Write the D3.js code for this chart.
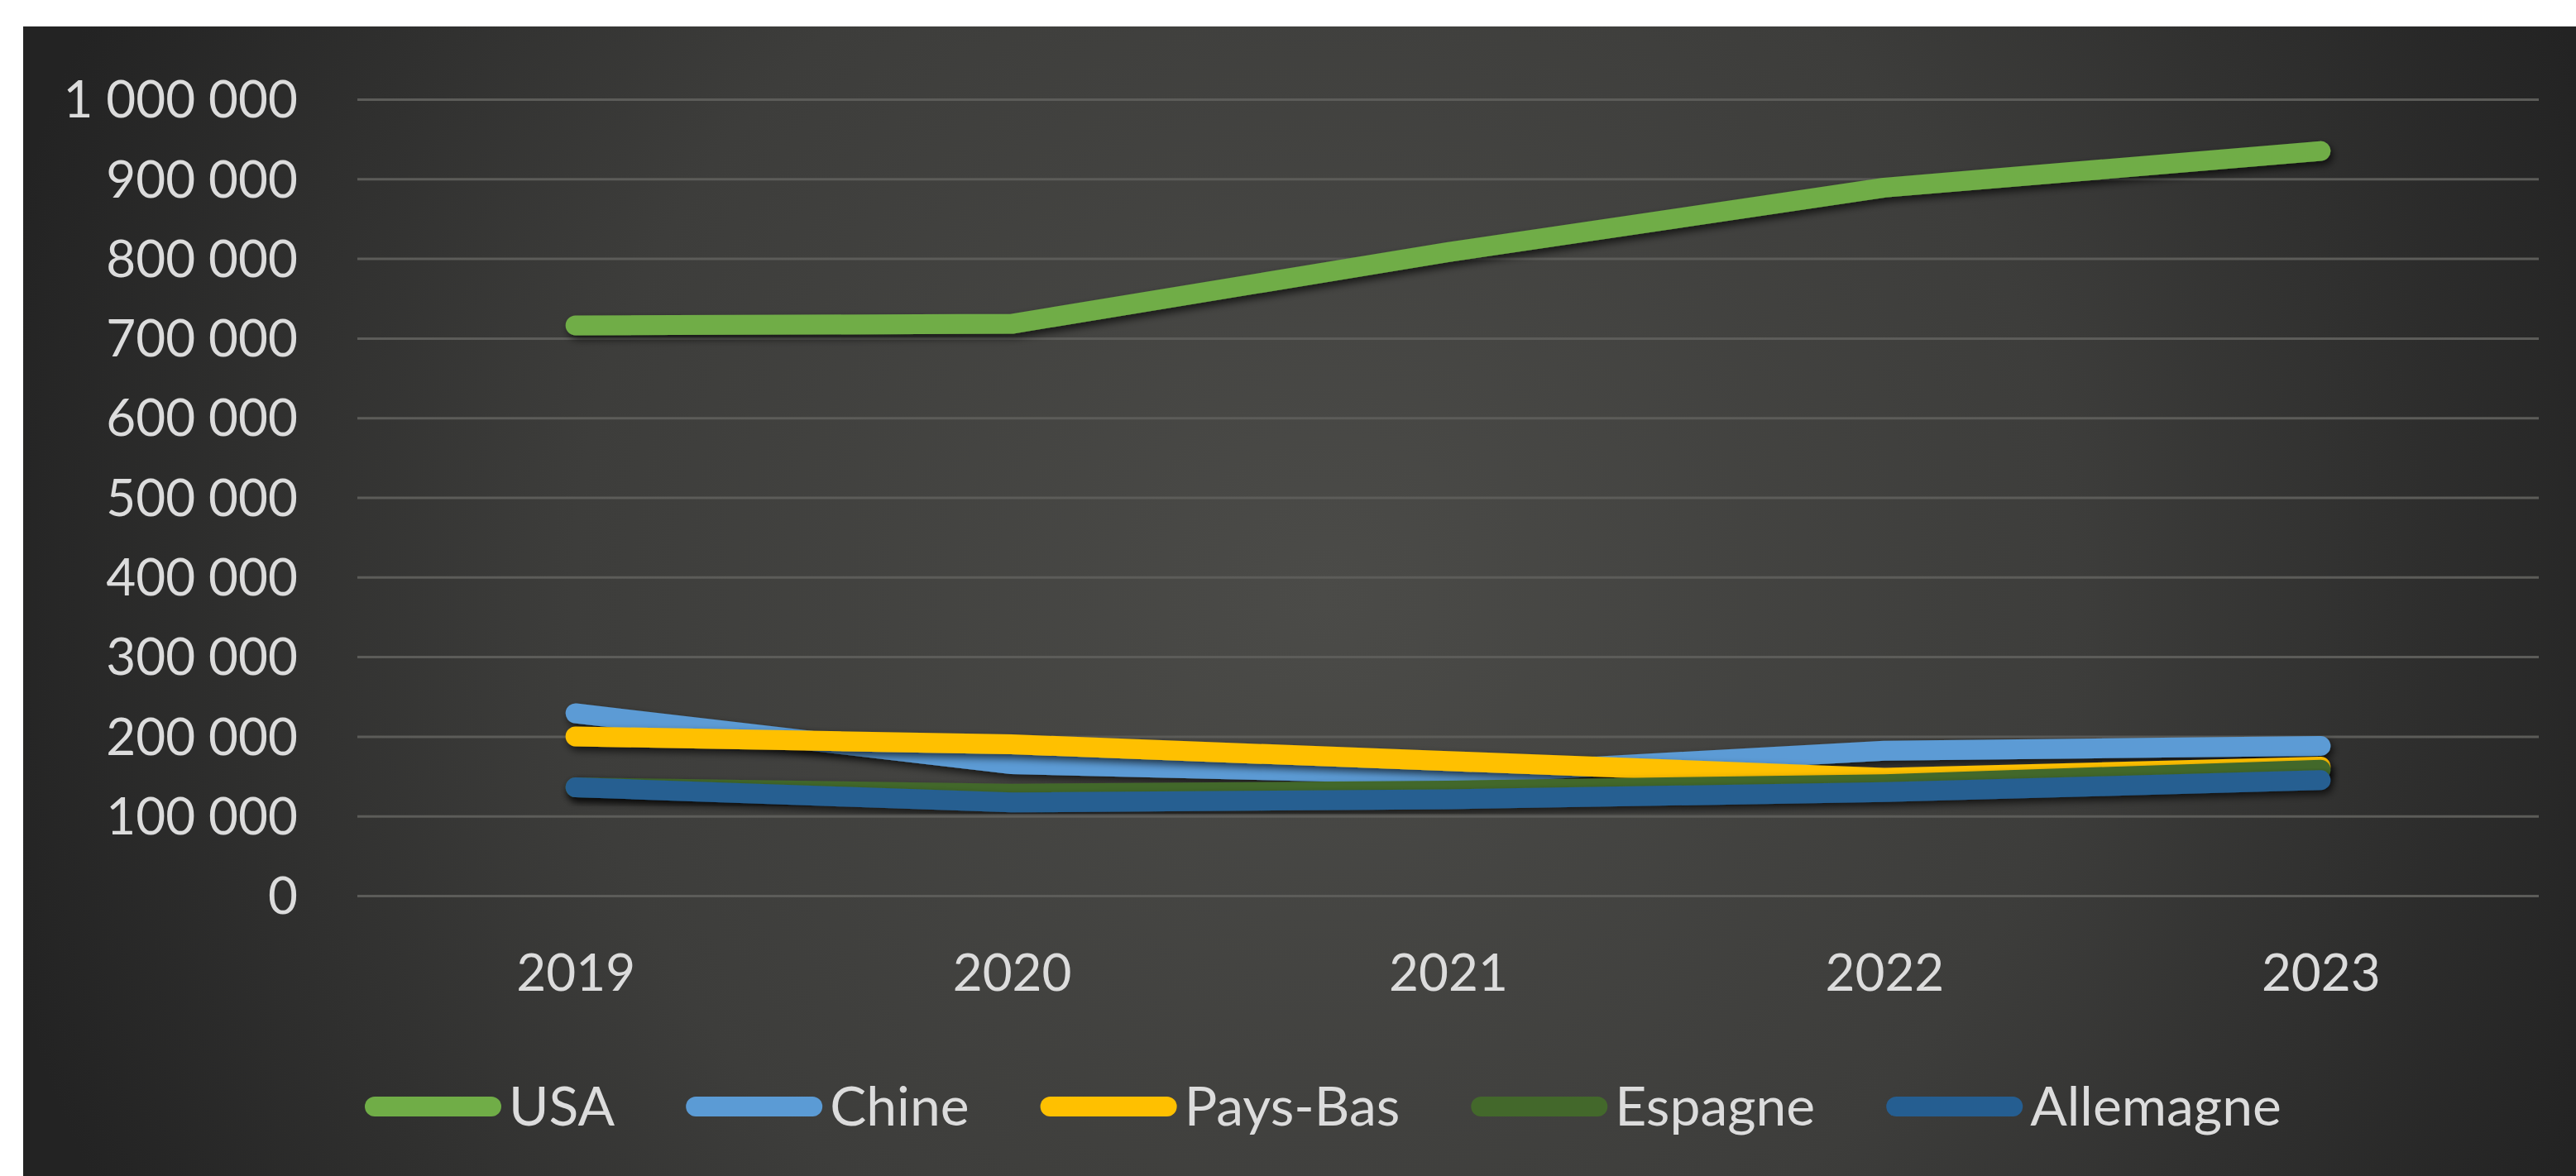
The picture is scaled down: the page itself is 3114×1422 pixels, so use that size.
<!DOCTYPE html>
<html>
<head>
<meta charset="utf-8">
<script src="https://cdn.jsdelivr.net/npm/d3@7"></script>
<style>
  body { margin: 0; background: #ffffff; }
  svg { display: block; }
  text { font-family: Lato, "Open Sans", sans-serif; fill: #dcdcdc; }
</style>
</head>
<body>
<div id="chart"></div>
<script>
// Data
var years = ["2019", "2020", "2021", "2022", "2023"];
var countries = ["USA", "Chine", "Pays-Bas", "Espagne", "Allemagne"];
var usa       = [716000, 718000, 808000, 889000, 935000];
var chine     = [229000, 165000, 152000, 182000, 188000];
var paysBas   = [200000, 190000, 169000, 148000, 162000];
var espagne   = [136000, 128000, 132000, 140000, 158000];
var allemagne = [136000, 117000, 121000, 130000, 145000];
var yTicks = [0, 100000, 200000, 300000, 400000, 500000, 600000, 700000, 800000, 900000, 1000000];
var colors = ["#70ad47", "#5b9bd5", "#ffc000", "#43682b", "#255e91"];

var series = [usa, chine, paysBas, espagne, allemagne].map(function(v, i) {
    return { name: countries[i], values: v, color: colors[i] };
});

var width = 3114,
    height = 1422,
    panel = { x: 28, y: 32 },
    plot = { left: 432, right: 3069, top: 120, bottom: 1083 },
    lineWidth = 24;

var svg = d3.select("#chart")
    .append("svg")
    .attr("width", width)
    .attr("height", height);

var defs = svg.append("defs");

var grad = defs.append("radialGradient")
    .attr("id", "bg")
    .attr("gradientUnits", "userSpaceOnUse")
    .attr("cx", 1600).attr("cy", 720).attr("r", 1650);
grad.append("stop").attr("offset", "0%").attr("stop-color", "#4b4b48");
grad.append("stop").attr("offset", "55%").attr("stop-color", "#3d3d3b");
grad.append("stop").attr("offset", "100%").attr("stop-color", "#232323");

var shadow = defs.append("filter")
    .attr("id", "shadow")
    .attr("x", "-10%").attr("y", "-50%")
    .attr("width", "120%").attr("height", "200%");
shadow.append("feDropShadow")
    .attr("dx", 3).attr("dy", 5)
    .attr("stdDeviation", 5)
    .attr("flood-color", "#000")
    .attr("flood-opacity", 0.65);

// panel
svg.append("rect")
    .attr("x", panel.x)
    .attr("y", panel.y)
    .attr("width", width - panel.x)
    .attr("height", height - panel.y)
    .attr("fill", "url(#bg)");

// scales
var x = d3.scalePoint()
    .domain(years)
    .range([plot.left, plot.right])
    .padding(0.5);

var y = d3.scaleLinear()
    .domain([0, 1000000])
    .range([plot.bottom, plot.top]);

var fmt = function(d) {
    return d3.format(",")(d).replace(/,/g, " ");
};

// gridlines + y labels
var yAxis = svg.append("g")
    .attr("transform", "translate(" + plot.left + ",0)")
    .call(d3.axisLeft(y)
        .tickValues(yTicks)
        .tickSize(-(plot.right - plot.left))
        .tickPadding(plot.left - 360)
        .tickFormat(fmt));

yAxis.select(".domain").remove();
yAxis.selectAll(".tick line")
    .attr("stroke", "#5c5c59")
    .attr("stroke-width", 3);
yAxis.selectAll(".tick text")
    .attr("fill", "#dcdcdc")
    .style("font-size", "62px")
    .attr("dy", "0.35em");

// x labels
var xAxis = svg.append("g")
    .attr("transform", "translate(0," + plot.bottom + ")")
    .call(d3.axisBottom(x).tickSize(0).tickPadding(0));

xAxis.select(".domain").remove();
xAxis.selectAll(".tick text")
    .attr("fill", "#dcdcdc")
    .attr("y", 115)
    .attr("dy", 0)
    .style("font-size", "62px");

// lines
var line = d3.line()
    .x(function(d, i) { return x(years[i]); })
    .y(function(d) { return y(d); });

svg.append("g")
    .selectAll("path")
    .data(series)
    .enter()
    .append("path")
    .attr("d", function(d) { return line(d.values); })
    .attr("fill", "none")
    .attr("stroke", function(d) { return d.color; })
    .attr("stroke-width", lineWidth)
    .attr("stroke-linecap", "round")
    .attr("stroke-linejoin", "round")
    .attr("filter", "url(#shadow)");

// legend
var legend = svg.append("g").attr("transform", "translate(0,1338)");
var lx = 441;
series.forEach(function(s) {
    legend.append("line")
        .attr("x1", lx + lineWidth / 2)
        .attr("x2", lx + 165 - lineWidth / 2)
        .attr("y1", 0).attr("y2", 0)
        .attr("stroke", s.color)
        .attr("stroke-width", lineWidth)
        .attr("stroke-linecap", "round");
    var t = legend.append("text")
        .attr("x", lx + 174)
        .attr("y", 0)
        .attr("dy", "0.35em")
        .style("font-size", "66px")
        .text(s.name);
    lx = lx + 174 + t.node().getComputedTextLength() + 86;
});
</script>
</body>
</html>
